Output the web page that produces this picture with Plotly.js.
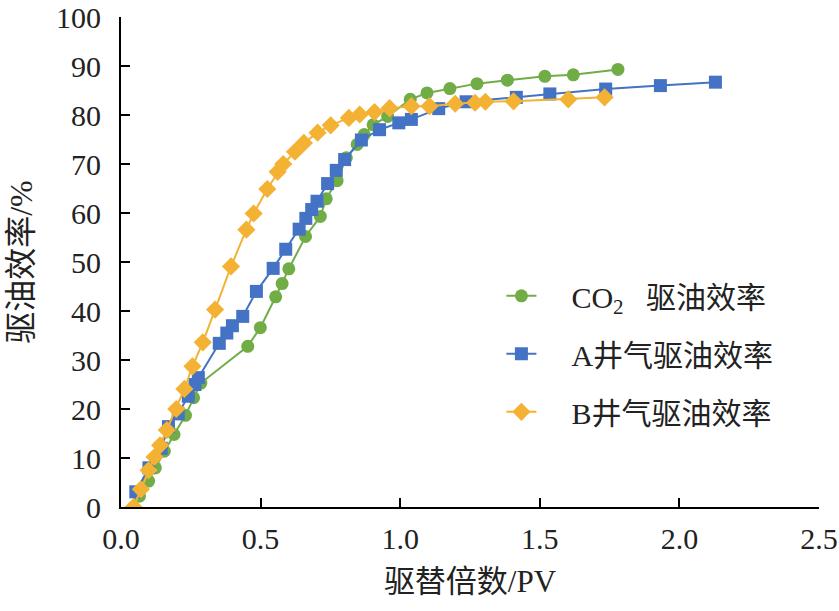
<!DOCTYPE html>
<html>
<head>
<meta charset="utf-8">
<script src="https://cdn.plot.ly/plotly-3.0.1.min.js"></script>
<style>
    html, body { margin: 0; padding: 0; background: #ffffff; }
    #chart { width: 839px; height: 611px; }
</style>
</head>
<body>
<div id="chart"></div>
<script>
// 驱替倍数 (PV) vs 驱油效率 (%)
var co2X = [0.066, 0.099, 0.123, 0.155, 0.19, 0.231, 0.26, 0.286, 0.454, 0.499, 0.554, 0.577, 0.601, 0.661, 0.714, 0.735, 0.774, 0.807, 0.846, 0.871, 0.903, 0.955, 1.036, 1.096, 1.178, 1.275, 1.384, 1.518, 1.62, 1.78];
var co2Y = [2.2, 5.3, 8.0, 11.4, 14.8, 18.7, 22.3, 25.3, 32.8, 36.6, 42.9, 45.6, 48.6, 55.2, 59.3, 62.9, 66.6, 71.3, 74.0, 76.0, 78.0, 79.7, 83.2, 84.5, 85.4, 86.4, 87.1, 87.9, 88.2, 89.3];

var wellAX = [0.053, 0.1, 0.144, 0.17, 0.205, 0.241, 0.265, 0.277, 0.352, 0.379, 0.399, 0.436, 0.485, 0.545, 0.59, 0.638, 0.662, 0.683, 0.702, 0.74, 0.771, 0.801, 0.861, 0.926, 0.995, 1.04, 1.138, 1.236, 1.416, 1.536, 1.736, 1.932, 2.129];
var wellAY = [3.1, 8.0, 12.0, 16.4, 19.0, 22.6, 25.0, 26.4, 33.4, 35.5, 37.0, 38.9, 44.0, 48.7, 52.6, 56.7, 58.9, 60.7, 62.4, 66.0, 68.7, 70.9, 74.9, 77.0, 78.4, 79.1, 81.3, 82.7, 83.6, 84.3, 85.3, 86.0, 86.7];

var wellBX = [0.045, 0.071, 0.099, 0.12, 0.14, 0.164, 0.198, 0.227, 0.256, 0.293, 0.337, 0.394, 0.449, 0.475, 0.524, 0.561, 0.581, 0.623, 0.655, 0.704, 0.751, 0.816, 0.855, 0.908, 0.962, 1.04, 1.105, 1.197, 1.268, 1.305, 1.406, 1.602, 1.732];
var wellBY = [0.0, 3.6, 7.5, 10.2, 12.6, 15.7, 20.0, 24.1, 28.7, 33.6, 40.3, 49.1, 56.6, 59.9, 64.9, 68.4, 70.0, 72.5, 74.3, 76.4, 77.9, 79.4, 80.1, 80.6, 81.4, 81.8, 81.8, 82.3, 82.5, 82.7, 82.8, 83.2, 83.6];

var seriesNames = ["CO<sub>2</sub>\u2002 驱油效率", "A井气驱油效率", "B井气驱油效率"];

var xTickVals = [0, 0.5, 1.0, 1.5, 2.0, 2.5];
var yTickVals = [0, 10, 20, 30, 40, 50, 60, 70, 80, 90, 100];

var serifFont = "'Liberation Serif', 'Noto Sans CJK SC', serif";
var cjkFont = "'Liberation Serif', 'Noto Sans CJK SC', serif";

var co2Trace =
{
    x: co2X,
    y: co2Y,
    mode: "lines+markers",
    type: "scatter",
    name: "\u2003" + seriesNames[0],
    legendgroup: "g1",
    line: { color: "#70AD47", width: 2 },
    marker: { symbol: "circle", size: 13, color: "#70AD47" }
};

var wellATrace =
{
    x: wellAX,
    y: wellAY,
    mode: "lines+markers",
    type: "scatter",
    name: "\u2003" + seriesNames[1],
    legendgroup: "g2",
    line: { color: "#4472C4", width: 2 },
    marker: { symbol: "square", size: 13, color: "#4472C4" }
};

var wellBTrace =
{
    x: wellBX,
    y: wellBY,
    mode: "lines+markers",
    type: "scatter",
    name: "\u2003" + seriesNames[2],
    legendgroup: "g3",
    line: { color: "#F4B234", width: 2 },
    marker: { symbol: "diamond", size: 14, color: "#F4B234" }
};

var data = [co2Trace, wellATrace, wellBTrace];

var layout =
{
    width: 839,
    height: 611,
    margin: { l: 121, r: 20, t: 17, b: 104 },
    paper_bgcolor: "#ffffff",
    plot_bgcolor: "#ffffff",
    font: { family: serifFont, size: 30, color: "#222222" },
    showlegend: true,
    legend:
    {
        x: 0.545,
        y: 0.484,
        xanchor: "left",
        yanchor: "top",
        bgcolor: "rgba(0,0,0,0)",
        font: { family: cjkFont, size: 30, color: "#222222" },
        tracegroupgap: 16,
        traceorder: "grouped"
    },
    xaxis:
    {
        range: [0, 2.5],
        tickvals: xTickVals,
        ticktext: xTickVals.map(v => v.toFixed(1)),
        ticklabeloverflow: "allow",
        ticklabelstandoff: 4,
        ticks: "inside",
        ticklen: 9,
        tickwidth: 2,
        tickcolor: "#000000",
        showline: true,
        linecolor: "#000000",
        linewidth: 2,
        showgrid: false,
        zeroline: false,
        tickfont: { family: serifFont, size: 30 },
        title: { text: "驱替倍数/PV", font: { family: cjkFont, size: 31 }, standoff: 16 }
    },
    yaxis:
    {
        range: [0, 100],
        tickvals: yTickVals,
        ticks: "inside",
        ticklen: 9,
        tickwidth: 2,
        tickcolor: "#000000",
        showline: true,
        linecolor: "#000000",
        linewidth: 2,
        showgrid: false,
        zeroline: false,
        tickfont: { family: serifFont, size: 30 },
        ticklabelstandoff: 12,
        title: { text: "驱油效率/%", font: { family: cjkFont, size: 32 }, standoff: 14 }
    }
};

var config = { staticPlot: true, displayModeBar: false };

Plotly.newPlot("chart", data, layout, config);
</script>
</body>
</html>
